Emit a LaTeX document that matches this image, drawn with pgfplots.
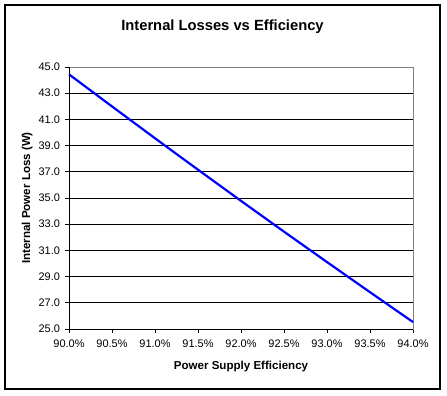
\documentclass[border=0pt]{standalone}
\usepackage{fontspec}
\setmainfont{Liberation Sans}
\usepackage{pgfplots}
\pgfplotsset{compat=1.18}
\begin{document}
\begin{tikzpicture}
\path[use as bounding box] (-69bp,-67bp) rectangle (378bp,329bp);
\draw[line width=1.4bp, fill=white] (-64bp,-60bp) rectangle (371bp,324bp);
\begin{axis}[
  at={(0,0)}, anchor=south west, scale only axis,
  width=344bp, height=262bp,
  xmin=90, xmax=94, ymin=25, ymax=45,
  xtick={90,90.5,...,94}, ytick={25,27,...,45},
  /pgf/number format/assume math mode=true,
  xticklabel={\pgfmathprintnumber[fixed,fixed zerofill,precision=1]{\tick}\%},
  yticklabel={\pgfmathprintnumber[fixed,fixed zerofill,precision=1]{\tick}},
  ticklabel style={font=\fontsize{11}{13}\selectfont},
  xticklabel style={yshift=-3bp},
  yticklabel style={xshift=-1.5bp},
  scaled ticks=false,
  tick align=outside, major tick length=4bp,
  tick style={black, line width=0.8bp},
  xtick pos=bottom, ytick pos=left,
  ymajorgrids, major grid style={black, line width=0.8bp},
  axis line style={draw=gray, line width=0.8bp},
  xlabel={Power Supply Efficiency},
  ylabel={Internal Power Loss (W)},
  label style={font=\fontsize{11.6}{13}\bfseries},
  xlabel style={at={(axis description cs:0.5,-0.145)}, anchor=center},
  ylabel style={at={(axis description cs:-0.122,0.5)}, anchor=center},
  clip=false,
]
\addplot[blue, line width=2.2bp] coordinates {
 (90.0,44.44) (90.5,41.99) (91.0,39.56) (91.5,37.16) (92.0,34.78)
 (92.5,32.43) (93.0,30.11) (93.5,27.81) (94.0,25.53)
};
\draw[black, line width=0.8bp] (rel axis cs:0,1) -- (rel axis cs:0,0) -- (rel axis cs:1,0);
\end{axis}
\node[font=\fontsize{14.8}{17}\bfseries] at (153.5bp,302bp) {Internal Losses vs Efficiency};
\end{tikzpicture}
\end{document}
